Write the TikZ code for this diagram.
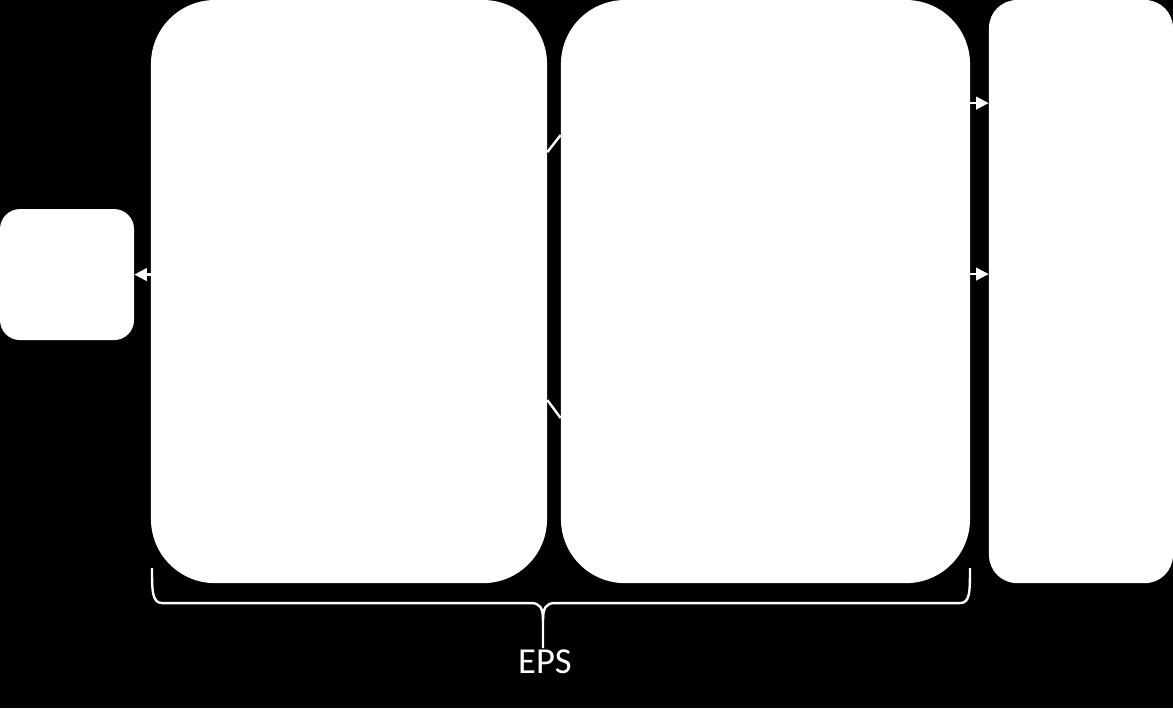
\documentclass[tikz,border=0pt]{standalone}
\usepackage{fontspec}
\setmainfont{Carlito}
\usetikzlibrary{arrows.meta}
\begin{document}
\begin{tikzpicture}[x=0.025cm, y=-0.025cm,
		block/.style={fill=white, rectangle, inner sep=0pt, minimum height=14.575cm},
		link/.style={white, line width=1.7pt},
		arr/.style={link, -{Triangle[length=9pt,width=9pt]}}]
		\fill[black] (0,0) rectangle (1173,708);

		\draw (67,274.5) node (ue) [block, rounded corners=0.5cm, minimum width=3.35cm, minimum height=3.275cm] {};
		\draw (349,291.5) node (eutran) [block, rounded corners=1.6cm, minimum width=9.9cm] {};
		\draw (765.5,291.5) node (epc) [block, rounded corners=1.6cm, minimum width=10.225cm] {};
		\draw (1081,291.5) node (pdn) [block, rounded corners=0.7cm, minimum width=4.6cm] {};


		\draw[arr] (eutran.west |- ue.east) -- (ue.east);
		\draw[arr] (epc.east |- 0,103) -- (pdn.west |- 0,103);
		\draw[arr] (epc.east |- 0,274) -- (pdn.west |- 0,274);

		\draw[link] (eutran.east |- 0,152) -- (epc.west |- 0,135);
		\draw[link] (eutran.east |- 0,400) -- (epc.west |- 0,418);


		\draw[link] (152,568) .. controls (152,590) and (152,603) .. (162,603) -- (531,603) .. controls (540,603) and (543,608) .. (543,620) -- (543,648);
		\draw[link] (543,620) .. controls (543,608) and (546,603) .. (555,603) -- (960,603) .. controls (970,603) and (970,592) .. (970,568);

		\draw (545,662) node (eps) [text=white, inner sep=0pt, font=\fontsize{26}{31}\selectfont] {EPS};
	\end{tikzpicture}
\end{document}
